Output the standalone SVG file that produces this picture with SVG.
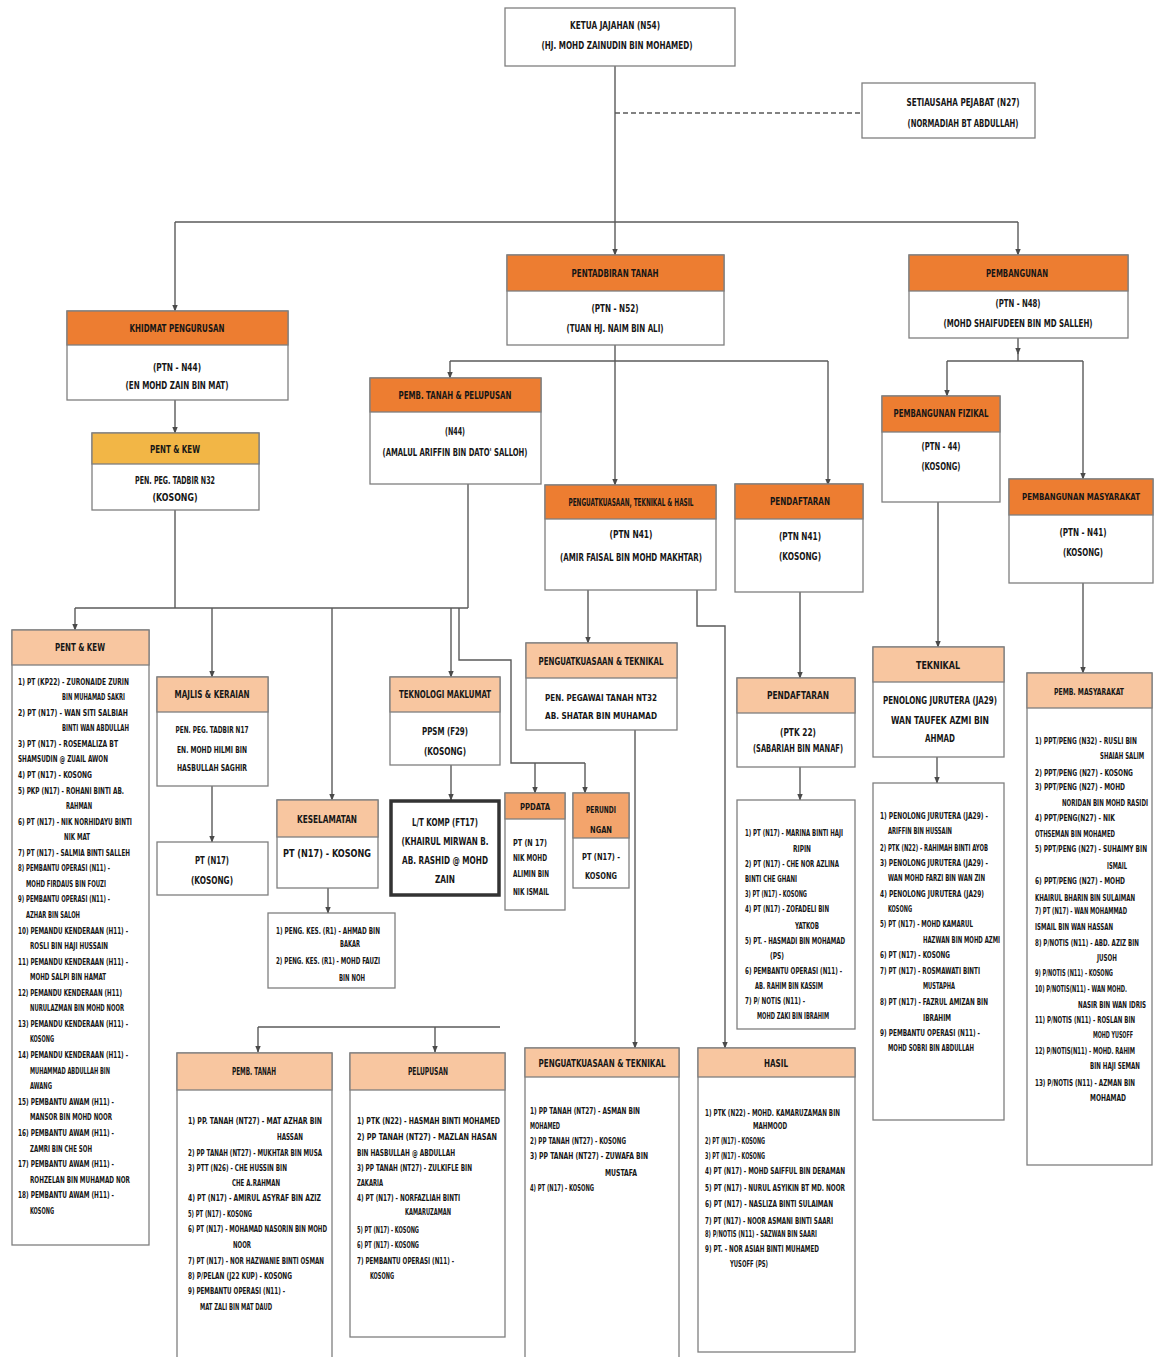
<svg xmlns="http://www.w3.org/2000/svg" width="1154" height="1357" viewBox="0 0 1154 1357">
<defs>
<style>
.b{fill:#fff;stroke:#7f7f7f;stroke-width:1.3}
.o{fill:#ED7D31;stroke:#7f7f7f;stroke-width:1.3}
.p{fill:#F8C6A0;stroke:#7f7f7f;stroke-width:1.3}
.y{fill:#F2B646;stroke:#7f7f7f;stroke-width:1.3}
.s{fill:#F3A46C;stroke:#7f7f7f;stroke-width:1.3}
.k{fill:#fff;stroke:#333;stroke-width:3.5}
text{font-family:"Liberation Sans Narrow","DejaVu Sans Condensed","Liberation Sans",sans-serif;font-weight:bold;fill:#161616}
.t{font-size:10.5px}
.h{font-size:10px}
.h9{font-size:9px}
.l{font-size:8px}
.c{text-anchor:middle}
.cn{fill:none;stroke:#5a5a5a;stroke-width:1.4}
.ar{marker-end:url(#ah)}
</style>
<marker id="ah" viewBox="0 0 10 10" refX="9" refY="5" markerUnits="userSpaceOnUse" markerWidth="7" markerHeight="7" orient="auto"><path d="M0,1 L10,5 L0,9 z" fill="#4a4a4a"/></marker>
</defs>
<rect width="1154" height="1357" fill="#fff"/>

<g id="connectors">
<path class="cn" d="M615,66 V222"/>
<path class="cn" d="M175,222 H1018"/>
<path class="cn ar" d="M175,222 V311"/>
<path class="cn ar" d="M615,222 V255"/>
<path class="cn ar" d="M1018,222 V255"/>
<path class="cn" d="M615,113 H862" stroke-dasharray="5,3"/>
<path class="cn ar" d="M175,400 V433"/>
<path class="cn" d="M175,510 V608"/>
<path class="cn" d="M75,608 H468"/>
<path class="cn" d="M468,484 V608"/>
<path class="cn ar" d="M75,608 V630"/>
<path class="cn ar" d="M212,608 V677"/>
<path class="cn ar" d="M332,608 V800"/>
<path class="cn ar" d="M451,608 V677"/>
<path class="cn" d="M459,608 V660 H511 V763 H585"/>
<path class="cn ar" d="M535,763 V793"/>
<path class="cn ar" d="M585,763 V793"/>
<path class="cn ar" d="M212,786 V842"/>
<path class="cn ar" d="M328,888 V913"/>
<path class="cn ar" d="M451,765 V800"/>
<path class="cn ar" d="M615,345 V485"/>
<path class="cn" d="M450,361 H828"/>
<path class="cn ar" d="M450,361 V378"/>
<path class="cn ar" d="M828,361 V485"/>
<path class="cn ar" d="M588,590 V643"/>
<path class="cn ar" d="M697,590 V626 H725 V1048"/>
<path class="cn ar" d="M635,730 V1048"/>
<path class="cn ar" d="M800,592 V678"/>
<path class="cn ar" d="M800,767 V800"/>
<path class="cn ar" d="M1018,338 V354"/>
<path class="cn" d="M1018,352 V361"/>
<path class="cn" d="M947,361 H1083"/>
<path class="cn ar" d="M947,361 V396"/>
<path class="cn ar" d="M1083,361 V479"/>
<path class="cn ar" d="M938,502 V647"/>
<path class="cn ar" d="M1083,583 V673"/>
<path class="cn ar" d="M937,757 V783"/>
<path class="cn" d="M258,1027 H500"/>
<path class="cn ar" d="M258,1027 V1052"/>
<path class="cn ar" d="M435,1027 V1052"/>
</g>

<g id="ketua">
<rect class="b" x="505" y="8" width="230" height="58"/>
<text class="t c" x="615" y="29" textLength="90" lengthAdjust="spacingAndGlyphs">KETUA JAJAHAN (N54)</text>
<text class="t c" x="617" y="49" textLength="151" lengthAdjust="spacingAndGlyphs">(HJ. MOHD ZAINUDIN BIN MOHAMED)</text>
</g>

<g id="setiausaha">
<rect class="b" x="862" y="83" width="173" height="55"/>
<text class="t c" x="963" y="106" textLength="113" lengthAdjust="spacingAndGlyphs">SETIAUSAHA PEJABAT (N27)</text>
<text class="t c" x="963" y="127" textLength="111" lengthAdjust="spacingAndGlyphs">(NORMADIAH BT ABDULLAH)</text>
</g>

<g id="khidmat">
<rect class="b" x="67" y="311" width="221" height="89"/>
<rect class="o" x="67" y="311" width="221" height="34"/>
<text class="h c" x="177" y="332" textLength="95" lengthAdjust="spacingAndGlyphs">KHIDMAT PENGURUSAN</text>
<text class="t c" x="177" y="371" textLength="48" lengthAdjust="spacingAndGlyphs">(PTN - N44)</text>
<text class="t c" x="177" y="389" textLength="103" lengthAdjust="spacingAndGlyphs">(EN MOHD ZAIN BIN MAT)</text>
</g>

<g id="pentkew1">
<rect class="b" x="92" y="433" width="167" height="77"/>
<rect class="y" x="92" y="433" width="167" height="31"/>
<text class="h c" x="175" y="453" textLength="50" lengthAdjust="spacingAndGlyphs">PENT &amp; KEW</text>
<text class="t c" x="175" y="484" textLength="80" lengthAdjust="spacingAndGlyphs">PEN. PEG. TADBIR N32</text>
<text class="t c" x="175" y="501" textLength="45" lengthAdjust="spacingAndGlyphs">(KOSONG)</text>
</g>

<g id="pentadbiran">
<rect class="b" x="507" y="255" width="217" height="90"/>
<rect class="o" x="507" y="255" width="217" height="36"/>
<text class="h c" x="615" y="277" textLength="87" lengthAdjust="spacingAndGlyphs">PENTADBIRAN TANAH</text>
<text class="t c" x="615" y="312" textLength="47" lengthAdjust="spacingAndGlyphs">(PTN - N52)</text>
<text class="t c" x="615" y="332" textLength="97" lengthAdjust="spacingAndGlyphs">(TUAN HJ. NAIM BIN ALI)</text>
</g>

<g id="pembangunan">
<rect class="b" x="909" y="255" width="219" height="83"/>
<rect class="o" x="909" y="255" width="219" height="36"/>
<text class="h c" x="1017" y="277" textLength="62" lengthAdjust="spacingAndGlyphs">PEMBANGUNAN</text>
<text class="t c" x="1018" y="307" textLength="45" lengthAdjust="spacingAndGlyphs">(PTN - N48)</text>
<text class="t c" x="1018" y="327" textLength="149" lengthAdjust="spacingAndGlyphs">(MOHD SHAIFUDEEN BIN MD SALLEH)</text>
</g>

<g id="pembtanahpelupusan">
<rect class="b" x="370" y="378" width="171" height="106"/>
<rect class="o" x="370" y="378" width="171" height="34"/>
<text class="h c" x="455" y="399" textLength="113" lengthAdjust="spacingAndGlyphs">PEMB. TANAH &amp; PELUPUSAN</text>
<text class="t c" x="455" y="435" textLength="20" lengthAdjust="spacingAndGlyphs">(N44)</text>
<text class="t c" x="455" y="456" textLength="145" lengthAdjust="spacingAndGlyphs">(AMALUL ARIFFIN BIN DATO' SALLOH)</text>
</g>

<g id="teknikalhasil">
<rect class="b" x="545" y="485" width="171" height="105"/>
<rect class="o" x="545" y="485" width="171" height="34"/>
<text class="h c" x="631" y="506" textLength="125" lengthAdjust="spacingAndGlyphs">PENGUATKUASAAN, TEKNIKAL &amp; HASIL</text>
<text class="t c" x="631" y="538" textLength="43" lengthAdjust="spacingAndGlyphs">(PTN N41)</text>
<text class="t c" x="631" y="561" textLength="142" lengthAdjust="spacingAndGlyphs">(AMIR FAISAL BIN MOHD MAKHTAR)</text>
</g>

<g id="pendaftaran1">
<rect class="b" x="735" y="484" width="128" height="108"/>
<rect class="o" x="735" y="484" width="128" height="35"/>
<text class="h c" x="800" y="505" textLength="60" lengthAdjust="spacingAndGlyphs">PENDAFTARAN</text>
<text class="t c" x="800" y="540" textLength="42" lengthAdjust="spacingAndGlyphs">(PTN N41)</text>
<text class="t c" x="800" y="560" textLength="42" lengthAdjust="spacingAndGlyphs">(KOSONG)</text>
</g>

<g id="pembfizikal">
<rect class="b" x="882" y="396" width="118" height="106"/>
<rect class="o" x="882" y="396" width="118" height="36"/>
<text class="h c" x="941" y="417" textLength="95" lengthAdjust="spacingAndGlyphs">PEMBANGUNAN FIZIKAL</text>
<text class="t c" x="941" y="450" textLength="39" lengthAdjust="spacingAndGlyphs">(PTN - 44)</text>
<text class="t c" x="941" y="470" textLength="39" lengthAdjust="spacingAndGlyphs">(KOSONG)</text>
</g>

<g id="pembmasyarakat1">
<rect class="b" x="1009" y="479" width="144" height="104"/>
<rect class="o" x="1009" y="479" width="144" height="36"/>
<text class="h9 c" x="1081" y="500" textLength="118" lengthAdjust="spacingAndGlyphs">PEMBANGUNAN MASYARAKAT</text>
<text class="t c" x="1083" y="536" textLength="47" lengthAdjust="spacingAndGlyphs">(PTN - N41)</text>
<text class="t c" x="1083" y="556" textLength="40" lengthAdjust="spacingAndGlyphs">(KOSONG)</text>
</g>

<g id="pentkew2">
<rect class="b" x="12" y="630" width="137" height="615"/>
<rect class="p" x="12" y="630" width="137" height="35"/>
<text class="h c" x="80" y="651" textLength="50" lengthAdjust="spacingAndGlyphs">PENT &amp; KEW</text>
<text class="l" x="18" y="685" textLength="111" lengthAdjust="spacingAndGlyphs">1) PT (KP22) - ZURONAIDE ZURIN</text>
<text class="l" x="62" y="700" textLength="63" lengthAdjust="spacingAndGlyphs">BIN MUHAMAD SAKRI</text>
<text class="l" x="18" y="716" textLength="110" lengthAdjust="spacingAndGlyphs">2) PT (N17) - WAN SITI SALBIAH</text>
<text class="l" x="62" y="731" textLength="67" lengthAdjust="spacingAndGlyphs">BINTI WAN ABDULLAH</text>
<text class="l" x="18" y="747" textLength="100" lengthAdjust="spacingAndGlyphs">3) PT (N17) - ROSEMALIZA BT</text>
<text class="l" x="18" y="762" textLength="90" lengthAdjust="spacingAndGlyphs">SHAMSUDIN @ ZUAIL AWON</text>
<text class="l" x="18" y="778" textLength="74" lengthAdjust="spacingAndGlyphs">4) PT (N17) - KOSONG</text>
<text class="l" x="18" y="794" textLength="106" lengthAdjust="spacingAndGlyphs">5) PKP (N17) - ROHANI BINTI AB.</text>
<text class="l" x="66" y="809" textLength="26" lengthAdjust="spacingAndGlyphs">RAHMAN</text>
<text class="l" x="18" y="825" textLength="114" lengthAdjust="spacingAndGlyphs">6) PT (N17) - NIK NORHIDAYU BINTI</text>
<text class="l" x="64" y="840" textLength="26" lengthAdjust="spacingAndGlyphs">NIK MAT</text>
<text class="l" x="18" y="856" textLength="112" lengthAdjust="spacingAndGlyphs">7) PT (N17) - SALMIA BINTI SALLEH</text>
<text class="l" x="18" y="871" textLength="92" lengthAdjust="spacingAndGlyphs">8) PEMBANTU OPERASI (N11) -</text>
<text class="l" x="26" y="887" textLength="80" lengthAdjust="spacingAndGlyphs">MOHD FIRDAUS BIN FOUZI</text>
<text class="l" x="18" y="902" textLength="92" lengthAdjust="spacingAndGlyphs">9) PEMBANTU OPERASI (N11) -</text>
<text class="l" x="26" y="918" textLength="54" lengthAdjust="spacingAndGlyphs">AZHAR BIN SALOH</text>
<text class="l" x="18" y="934" textLength="110" lengthAdjust="spacingAndGlyphs">10) PEMANDU KENDERAAN (H11) -</text>
<text class="l" x="30" y="949" textLength="78" lengthAdjust="spacingAndGlyphs">ROSLI BIN HAJI HUSSAIN</text>
<text class="l" x="18" y="965" textLength="110" lengthAdjust="spacingAndGlyphs">11) PEMANDU KENDERAAN (H11) -</text>
<text class="l" x="30" y="980" textLength="76" lengthAdjust="spacingAndGlyphs">MOHD SALPI BIN HAMAT</text>
<text class="l" x="18" y="996" textLength="104" lengthAdjust="spacingAndGlyphs">12) PEMANDU KENDERAAN (H11)</text>
<text class="l" x="30" y="1011" textLength="94" lengthAdjust="spacingAndGlyphs">NURULAZMAN BIN MOHD NOOR</text>
<text class="l" x="18" y="1027" textLength="110" lengthAdjust="spacingAndGlyphs">13) PEMANDU KENDERAAN (H11) -</text>
<text class="l" x="30" y="1042" textLength="24" lengthAdjust="spacingAndGlyphs">KOSONG</text>
<text class="l" x="18" y="1058" textLength="110" lengthAdjust="spacingAndGlyphs">14) PEMANDU KENDERAAN (H11) -</text>
<text class="l" x="30" y="1074" textLength="80" lengthAdjust="spacingAndGlyphs">MUHAMMAD ABDULLAH BIN</text>
<text class="l" x="30" y="1089" textLength="22" lengthAdjust="spacingAndGlyphs">AWANG</text>
<text class="l" x="18" y="1105" textLength="96" lengthAdjust="spacingAndGlyphs">15) PEMBANTU AWAM (H11) -</text>
<text class="l" x="30" y="1120" textLength="82" lengthAdjust="spacingAndGlyphs">MANSOR BIN MOHD NOOR</text>
<text class="l" x="18" y="1136" textLength="96" lengthAdjust="spacingAndGlyphs">16) PEMBANTU AWAM (H11) -</text>
<text class="l" x="30" y="1152" textLength="62" lengthAdjust="spacingAndGlyphs">ZAMRI BIN CHE SOH</text>
<text class="l" x="18" y="1167" textLength="96" lengthAdjust="spacingAndGlyphs">17) PEMBANTU AWAM (H11) -</text>
<text class="l" x="30" y="1183" textLength="100" lengthAdjust="spacingAndGlyphs">ROHZELAN BIN MUHAMAD NOR</text>
<text class="l" x="18" y="1198" textLength="96" lengthAdjust="spacingAndGlyphs">18) PEMBANTU AWAM (H11) -</text>
<text class="l" x="30" y="1214" textLength="24" lengthAdjust="spacingAndGlyphs">KOSONG</text>
</g>

<g id="majlis">
<rect class="b" x="157" y="677" width="111" height="109"/>
<rect class="p" x="157" y="677" width="111" height="35"/>
<text class="h c" x="212" y="698" textLength="75" lengthAdjust="spacingAndGlyphs">MAJLIS &amp; KERAIAN</text>
<text class="l c" x="212" y="733" textLength="73" lengthAdjust="spacingAndGlyphs">PEN. PEG. TADBIR N17</text>
<text class="l c" x="212" y="753" textLength="70" lengthAdjust="spacingAndGlyphs">EN. MOHD HILMI BIN</text>
<text class="l c" x="212" y="771" textLength="70" lengthAdjust="spacingAndGlyphs">HASBULLAH SAGHIR</text>
</g>

<g id="majlis-pt">
<rect class="b" x="157" y="842" width="111" height="53"/>
<text class="t c" x="212" y="864" textLength="34" lengthAdjust="spacingAndGlyphs">PT (N17)</text>
<text class="t c" x="212" y="884" textLength="42" lengthAdjust="spacingAndGlyphs">(KOSONG)</text>
</g>

<g id="keselamatan">
<rect class="b" x="277" y="800" width="101" height="88"/>
<rect class="p" x="277" y="800" width="101" height="37"/>
<text class="h c" x="327" y="823" textLength="60" lengthAdjust="spacingAndGlyphs">KESELAMATAN</text>
<text class="t c" x="327" y="857" textLength="88" lengthAdjust="spacingAndGlyphs">PT (N17) - KOSONG</text>
</g>

<g id="keselamatan-list">
<rect class="b" x="268" y="913" width="127" height="75"/>
<text class="l" x="276" y="934" textLength="104" lengthAdjust="spacingAndGlyphs">1) PENG. KES. (R1) - AHMAD BIN</text>
<text class="l" x="340" y="947" textLength="20" lengthAdjust="spacingAndGlyphs">BAKAR</text>
<text class="l" x="276" y="964" textLength="104" lengthAdjust="spacingAndGlyphs">2) PENG. KES. (R1) - MOHD FAUZI</text>
<text class="l" x="339" y="981" textLength="26" lengthAdjust="spacingAndGlyphs">BIN NOH</text>
</g>

<g id="teknologi">
<rect class="b" x="390" y="677" width="110" height="88"/>
<rect class="p" x="390" y="677" width="110" height="35"/>
<text class="h c" x="445" y="698" textLength="92" lengthAdjust="spacingAndGlyphs">TEKNOLOGI MAKLUMAT</text>
<text class="t c" x="445" y="735" textLength="46" lengthAdjust="spacingAndGlyphs">PPSM (F29)</text>
<text class="t c" x="445" y="755" textLength="42" lengthAdjust="spacingAndGlyphs">(KOSONG)</text>
</g>

<g id="ltkomp">
<rect class="k" x="391" y="801" width="108" height="94"/>
<text class="t c" x="445" y="826" textLength="66" lengthAdjust="spacingAndGlyphs">L/T KOMP (FT17)</text>
<text class="t c" x="445" y="845" textLength="87" lengthAdjust="spacingAndGlyphs">(KHAIRUL MIRWAN B.</text>
<text class="t c" x="445" y="864" textLength="86" lengthAdjust="spacingAndGlyphs">AB. RASHID @ MOHD</text>
<text class="t c" x="445" y="883" textLength="20" lengthAdjust="spacingAndGlyphs">ZAIN</text>
</g>

<g id="ppdata">
<rect class="b" x="505" y="793" width="60" height="117"/>
<rect class="s" x="505" y="793" width="60" height="26"/>
<text class="l c" x="535" y="810" textLength="30" lengthAdjust="spacingAndGlyphs">PPDATA</text>
<text class="l" x="513" y="846" textLength="34" lengthAdjust="spacingAndGlyphs">PT (N 17)</text>
<text class="l" x="513" y="861" textLength="34" lengthAdjust="spacingAndGlyphs">NIK MOHD</text>
<text class="l" x="513" y="877" textLength="36" lengthAdjust="spacingAndGlyphs">ALIMIN BIN</text>
<text class="l" x="513" y="895" textLength="36" lengthAdjust="spacingAndGlyphs">NIK ISMAIL</text>
</g>

<g id="perundingan">
<rect class="b" x="573" y="793" width="56" height="95"/>
<rect class="s" x="573" y="793" width="56" height="45"/>
<text class="l c" x="601" y="813" textLength="30" lengthAdjust="spacingAndGlyphs">PERUNDI</text>
<text class="l c" x="601" y="833" textLength="22" lengthAdjust="spacingAndGlyphs">NGAN</text>
<text class="l c" x="601" y="860" textLength="38" lengthAdjust="spacingAndGlyphs">PT (N17) -</text>
<text class="l c" x="601" y="879" textLength="32" lengthAdjust="spacingAndGlyphs">KOSONG</text>
</g>

<g id="penguatkuasaan1">
<rect class="b" x="526" y="643" width="151" height="87"/>
<rect class="p" x="526" y="643" width="151" height="35"/>
<text class="h c" x="601" y="665" textLength="125" lengthAdjust="spacingAndGlyphs">PENGUATKUASAAN &amp; TEKNIKAL</text>
<text class="l c" x="601" y="701" textLength="112" lengthAdjust="spacingAndGlyphs">PEN. PEGAWAI TANAH NT32</text>
<text class="l c" x="601" y="719" textLength="112" lengthAdjust="spacingAndGlyphs">AB. SHATAR BIN MUHAMAD</text>
</g>

<g id="pendaftaran2">
<rect class="b" x="737" y="678" width="118" height="89"/>
<rect class="p" x="737" y="678" width="118" height="35"/>
<text class="h c" x="798" y="699" textLength="62" lengthAdjust="spacingAndGlyphs">PENDAFTARAN</text>
<text class="t c" x="798" y="736" textLength="36" lengthAdjust="spacingAndGlyphs">(PTK 22)</text>
<text class="t c" x="798" y="752" textLength="90" lengthAdjust="spacingAndGlyphs">(SABARIAH BIN MANAF)</text>
</g>

<g id="pendaftaran-list">
<rect class="b" x="737" y="800" width="118" height="229"/>
<text class="l" x="745" y="836" textLength="98" lengthAdjust="spacingAndGlyphs">1) PT (N17) - MARINA BINTI HAJI</text>
<text class="l" x="793" y="852" textLength="18" lengthAdjust="spacingAndGlyphs">RIPIN</text>
<text class="l" x="745" y="867" textLength="94" lengthAdjust="spacingAndGlyphs">2) PT (N17) - CHE NOR AZLINA</text>
<text class="l" x="745" y="882" textLength="52" lengthAdjust="spacingAndGlyphs">BINTI CHE GHANI</text>
<text class="l" x="745" y="897" textLength="62" lengthAdjust="spacingAndGlyphs">3) PT (N17) - KOSONG</text>
<text class="l" x="745" y="912" textLength="84" lengthAdjust="spacingAndGlyphs">4) PT (N17) - ZOFADELI BIN</text>
<text class="l" x="795" y="929" textLength="24" lengthAdjust="spacingAndGlyphs">YATKOB</text>
<text class="l" x="745" y="944" textLength="100" lengthAdjust="spacingAndGlyphs">5) PT. - HASMADI BIN MOHAMAD</text>
<text class="l" x="770" y="959" textLength="14" lengthAdjust="spacingAndGlyphs">(PS)</text>
<text class="l" x="745" y="974" textLength="97" lengthAdjust="spacingAndGlyphs">6) PEMBANTU OPERASI (N11) -</text>
<text class="l" x="755" y="989" textLength="68" lengthAdjust="spacingAndGlyphs">AB. RAHIM BIN KASSIM</text>
<text class="l" x="745" y="1004" textLength="60" lengthAdjust="spacingAndGlyphs">7) P/ NOTIS (N11) -</text>
<text class="l" x="757" y="1019" textLength="72" lengthAdjust="spacingAndGlyphs">MOHD ZAKI BIN IBRAHIM</text>
</g>

<g id="teknikal">
<rect class="b" x="873" y="647" width="131" height="110"/>
<rect class="p" x="873" y="647" width="131" height="35"/>
<text class="h c" x="938" y="669" textLength="44" lengthAdjust="spacingAndGlyphs">TEKNIKAL</text>
<text class="t c" x="940" y="704" textLength="114" lengthAdjust="spacingAndGlyphs">PENOLONG JURUTERA (JA29)</text>
<text class="t c" x="940" y="724" textLength="98" lengthAdjust="spacingAndGlyphs">WAN TAUFEK AZMI BIN</text>
<text class="t c" x="940" y="742" textLength="30" lengthAdjust="spacingAndGlyphs">AHMAD</text>
</g>

<g id="teknikal-list">
<rect class="b" x="873" y="783" width="131" height="337"/>
<text class="l" x="880" y="819" textLength="108" lengthAdjust="spacingAndGlyphs">1) PENOLONG JURUTERA (JA29) -</text>
<text class="l" x="888" y="834" textLength="64" lengthAdjust="spacingAndGlyphs">ARIFFIN BIN HUSSAIN</text>
<text class="l" x="880" y="851" textLength="108" lengthAdjust="spacingAndGlyphs">2) PTK (N22) - RAHIMAH BINTI AYOB</text>
<text class="l" x="880" y="866" textLength="108" lengthAdjust="spacingAndGlyphs">3) PENOLONG JURUTERA (JA29) -</text>
<text class="l" x="888" y="881" textLength="97" lengthAdjust="spacingAndGlyphs">WAN MOHD FARZI BIN WAN ZIN</text>
<text class="l" x="880" y="897" textLength="104" lengthAdjust="spacingAndGlyphs">4) PENOLONG JURUTERA (JA29)</text>
<text class="l" x="888" y="912" textLength="24" lengthAdjust="spacingAndGlyphs">KOSONG</text>
<text class="l" x="880" y="927" textLength="93" lengthAdjust="spacingAndGlyphs">5) PT (N17) - MOHD KAMARUL</text>
<text class="l" x="923" y="943" textLength="77" lengthAdjust="spacingAndGlyphs">HAZWAN BIN MOHD AZMI</text>
<text class="l" x="880" y="958" textLength="70" lengthAdjust="spacingAndGlyphs">6) PT (N17) - KOSONG</text>
<text class="l" x="880" y="974" textLength="100" lengthAdjust="spacingAndGlyphs">7) PT (N17) - ROSMAWATI BINTI</text>
<text class="l" x="923" y="989" textLength="32" lengthAdjust="spacingAndGlyphs">MUSTAPHA</text>
<text class="l" x="880" y="1005" textLength="108" lengthAdjust="spacingAndGlyphs">8) PT (N17) - FAZRUL AMIZAN BIN</text>
<text class="l" x="923" y="1021" textLength="28" lengthAdjust="spacingAndGlyphs">IBRAHIM</text>
<text class="l" x="880" y="1036" textLength="100" lengthAdjust="spacingAndGlyphs">9) PEMBANTU OPERASI (N11) -</text>
<text class="l" x="888" y="1051" textLength="86" lengthAdjust="spacingAndGlyphs">MOHD SOBRI BIN ABDULLAH</text>
</g>

<g id="pembmasyarakat2">
<rect class="b" x="1027" y="673" width="125" height="492"/>
<rect class="p" x="1027" y="673" width="125" height="35"/>
<text class="h9 c" x="1089" y="695" textLength="70" lengthAdjust="spacingAndGlyphs">PEMB. MASYARAKAT</text>
<text class="l" x="1035" y="744" textLength="102" lengthAdjust="spacingAndGlyphs">1) PPT/PENG (N32) - RUSLI BIN</text>
<text class="l" x="1100" y="759" textLength="44" lengthAdjust="spacingAndGlyphs">SHAIAH SALIM</text>
<text class="l" x="1035" y="776" textLength="98" lengthAdjust="spacingAndGlyphs">2) PPT/PENG (N27) - KOSONG</text>
<text class="l" x="1035" y="790" textLength="90" lengthAdjust="spacingAndGlyphs">3) PPT/PENG (N27) - MOHD</text>
<text class="l" x="1062" y="806" textLength="86" lengthAdjust="spacingAndGlyphs">NORIDAN BIN MOHD RASIDI</text>
<text class="l" x="1035" y="821" textLength="80" lengthAdjust="spacingAndGlyphs">4) PPT/PENG(N27) - NIK</text>
<text class="l" x="1035" y="837" textLength="80" lengthAdjust="spacingAndGlyphs">OTHSEMAN BIN MOHAMED</text>
<text class="l" x="1035" y="852" textLength="112" lengthAdjust="spacingAndGlyphs">5) PPT/PENG (N27) - SUHAIMY BIN</text>
<text class="l" x="1107" y="869" textLength="20" lengthAdjust="spacingAndGlyphs">ISMAIL</text>
<text class="l" x="1035" y="884" textLength="90" lengthAdjust="spacingAndGlyphs">6) PPT/PENG (N27) - MOHD</text>
<text class="l" x="1035" y="901" textLength="100" lengthAdjust="spacingAndGlyphs">KHAIRUL BHARIN BIN SULAIMAN</text>
<text class="l" x="1035" y="914" textLength="92" lengthAdjust="spacingAndGlyphs">7) PT (N17) - WAN MOHAMMAD</text>
<text class="l" x="1035" y="930" textLength="78" lengthAdjust="spacingAndGlyphs">ISMAIL BIN WAN HASSAN</text>
<text class="l" x="1035" y="946" textLength="104" lengthAdjust="spacingAndGlyphs">8) P/NOTIS (N11) - ABD. AZIZ BIN</text>
<text class="l" x="1097" y="961" textLength="20" lengthAdjust="spacingAndGlyphs">JUSOH</text>
<text class="l" x="1035" y="976" textLength="78" lengthAdjust="spacingAndGlyphs">9) P/NOTIS (N11) - KOSONG</text>
<text class="l" x="1035" y="992" textLength="92" lengthAdjust="spacingAndGlyphs">10) P/NOTIS(N11) - WAN MOHD.</text>
<text class="l" x="1078" y="1008" textLength="68" lengthAdjust="spacingAndGlyphs">NASIR BIN WAN IDRIS</text>
<text class="l" x="1035" y="1023" textLength="100" lengthAdjust="spacingAndGlyphs">11) P/NOTIS (N11) - ROSLAN BIN</text>
<text class="l" x="1093" y="1038" textLength="40" lengthAdjust="spacingAndGlyphs">MOHD YUSOFF</text>
<text class="l" x="1035" y="1054" textLength="100" lengthAdjust="spacingAndGlyphs">12) P/NOTIS(N11) - MOHD. RAHIM</text>
<text class="l" x="1090" y="1069" textLength="50" lengthAdjust="spacingAndGlyphs">BIN HAJI SEMAN</text>
<text class="l" x="1035" y="1086" textLength="100" lengthAdjust="spacingAndGlyphs">13) P/NOTIS (N11) - AZMAN BIN</text>
<text class="l" x="1090" y="1101" textLength="36" lengthAdjust="spacingAndGlyphs">MOHAMAD</text>
</g>

<g id="pembtanah">
<rect class="b" x="177" y="1053" width="155" height="310"/>
<rect class="p" x="177" y="1053" width="155" height="37"/>
<text class="h c" x="254" y="1075" textLength="44" lengthAdjust="spacingAndGlyphs">PEMB. TANAH</text>
<text class="l" x="188" y="1124" textLength="134" lengthAdjust="spacingAndGlyphs">1) PP. TANAH (NT27) - MAT AZHAR BIN</text>
<text class="l" x="277" y="1140" textLength="26" lengthAdjust="spacingAndGlyphs">HASSAN</text>
<text class="l" x="188" y="1156" textLength="134" lengthAdjust="spacingAndGlyphs">2) PP TANAH (NT27) - MUKHTAR BIN MUSA</text>
<text class="l" x="188" y="1171" textLength="99" lengthAdjust="spacingAndGlyphs">3) PTT (N26) - CHE HUSSIN BIN</text>
<text class="l" x="232" y="1186" textLength="48" lengthAdjust="spacingAndGlyphs">CHE A.RAHMAN</text>
<text class="l" x="188" y="1201" textLength="133" lengthAdjust="spacingAndGlyphs">4) PT (N17) - AMIRUL ASYRAF BIN AZIZ</text>
<text class="l" x="188" y="1217" textLength="64" lengthAdjust="spacingAndGlyphs">5) PT (N17) - KOSONG</text>
<text class="l" x="188" y="1232" textLength="139" lengthAdjust="spacingAndGlyphs">6) PT (N17) - MOHAMAD NASORIN BIN MOHD</text>
<text class="l" x="233" y="1248" textLength="18" lengthAdjust="spacingAndGlyphs">NOOR</text>
<text class="l" x="188" y="1264" textLength="136" lengthAdjust="spacingAndGlyphs">7) PT (N17) - NOR HAZWANIE BINTI OSMAN</text>
<text class="l" x="188" y="1279" textLength="104" lengthAdjust="spacingAndGlyphs">8) P/PELAN (J22 KUP) - KOSONG</text>
<text class="l" x="188" y="1294" textLength="97" lengthAdjust="spacingAndGlyphs">9) PEMBANTU OPERASI (N11) -</text>
<text class="l" x="200" y="1310" textLength="72" lengthAdjust="spacingAndGlyphs">MAT ZALI BIN MAT DAUD</text>
</g>

<g id="pelupusan">
<rect class="b" x="350" y="1053" width="155" height="284"/>
<rect class="p" x="350" y="1053" width="155" height="37"/>
<text class="h c" x="428" y="1075" textLength="40" lengthAdjust="spacingAndGlyphs">PELUPUSAN</text>
<text class="l" x="357" y="1124" textLength="143" lengthAdjust="spacingAndGlyphs">1) PTK (N22) - HASMAH BINTI MOHAMED</text>
<text class="l" x="357" y="1140" textLength="140" lengthAdjust="spacingAndGlyphs">2) PP TANAH (NT27) - MAZLAN HASAN</text>
<text class="l" x="357" y="1156" textLength="98" lengthAdjust="spacingAndGlyphs">BIN HASBULLAH @ ABDULLAH</text>
<text class="l" x="357" y="1171" textLength="115" lengthAdjust="spacingAndGlyphs">3) PP TANAH (NT27) - ZULKIFLE BIN</text>
<text class="l" x="357" y="1186" textLength="26" lengthAdjust="spacingAndGlyphs">ZAKARIA</text>
<text class="l" x="357" y="1201" textLength="103" lengthAdjust="spacingAndGlyphs">4) PT (N17) - NORFAZLIAH BINTI</text>
<text class="l" x="405" y="1215" textLength="46" lengthAdjust="spacingAndGlyphs">KAMARUZAMAN</text>
<text class="l" x="357" y="1233" textLength="62" lengthAdjust="spacingAndGlyphs">5) PT (N17) - KOSONG</text>
<text class="l" x="357" y="1248" textLength="62" lengthAdjust="spacingAndGlyphs">6) PT (N17) - KOSONG</text>
<text class="l" x="357" y="1264" textLength="97" lengthAdjust="spacingAndGlyphs">7) PEMBANTU OPERASI (N11) -</text>
<text class="l" x="370" y="1279" textLength="24" lengthAdjust="spacingAndGlyphs">KOSONG</text>
</g>

<g id="penguatkuasaan2">
<rect class="b" x="525" y="1048" width="154" height="315"/>
<rect class="p" x="525" y="1048" width="154" height="29"/>
<text class="h c" x="602" y="1067" textLength="127" lengthAdjust="spacingAndGlyphs">PENGUATKUASAAN &amp; TEKNIKAL</text>
<text class="l" x="530" y="1114" textLength="110" lengthAdjust="spacingAndGlyphs">1) PP TANAH (NT27) - ASMAN BIN</text>
<text class="l" x="530" y="1129" textLength="30" lengthAdjust="spacingAndGlyphs">MOHAMED</text>
<text class="l" x="530" y="1144" textLength="96" lengthAdjust="spacingAndGlyphs">2) PP TANAH (NT27) - KOSONG</text>
<text class="l" x="530" y="1159" textLength="118" lengthAdjust="spacingAndGlyphs">3) PP TANAH (NT27) - ZUWAFA BIN</text>
<text class="l" x="605" y="1176" textLength="32" lengthAdjust="spacingAndGlyphs">MUSTAFA</text>
<text class="l" x="530" y="1191" textLength="64" lengthAdjust="spacingAndGlyphs">4) PT (N17) - KOSONG</text>
</g>

<g id="hasil">
<rect class="b" x="698" y="1048" width="157" height="304"/>
<rect class="p" x="698" y="1048" width="157" height="29"/>
<text class="h c" x="776" y="1067" textLength="24" lengthAdjust="spacingAndGlyphs">HASIL</text>
<text class="l" x="705" y="1116" textLength="135" lengthAdjust="spacingAndGlyphs">1) PTK (N22) - MOHD. KAMARUZAMAN BIN</text>
<text class="l" x="753" y="1129" textLength="34" lengthAdjust="spacingAndGlyphs">MAHMOOD</text>
<text class="l" x="705" y="1144" textLength="60" lengthAdjust="spacingAndGlyphs">2) PT (N17) - KOSONG</text>
<text class="l" x="705" y="1159" textLength="60" lengthAdjust="spacingAndGlyphs">3) PT (N17) - KOSONG</text>
<text class="l" x="705" y="1174" textLength="140" lengthAdjust="spacingAndGlyphs">4) PT (N17) - MOHD SAIFFUL BIN DERAMAN</text>
<text class="l" x="705" y="1191" textLength="140" lengthAdjust="spacingAndGlyphs">5) PT (N17) - NURUL ASYIKIN BT MD. NOOR</text>
<text class="l" x="705" y="1207" textLength="128" lengthAdjust="spacingAndGlyphs">6) PT (N17) - NASLIZA BINTI SULAIMAN</text>
<text class="l" x="705" y="1224" textLength="128" lengthAdjust="spacingAndGlyphs">7) PT (N17) - NOOR ASMANI BINTI SAARI</text>
<text class="l" x="705" y="1237" textLength="112" lengthAdjust="spacingAndGlyphs">8) P/NOTIS (N11) - SAZWAN BIN SAARI</text>
<text class="l" x="705" y="1252" textLength="114" lengthAdjust="spacingAndGlyphs">9) PT. - NOR ASIAH BINTI MUHAMED</text>
<text class="l" x="730" y="1267" textLength="38" lengthAdjust="spacingAndGlyphs">YUSOFF (PS)</text>
</g>
</svg>
